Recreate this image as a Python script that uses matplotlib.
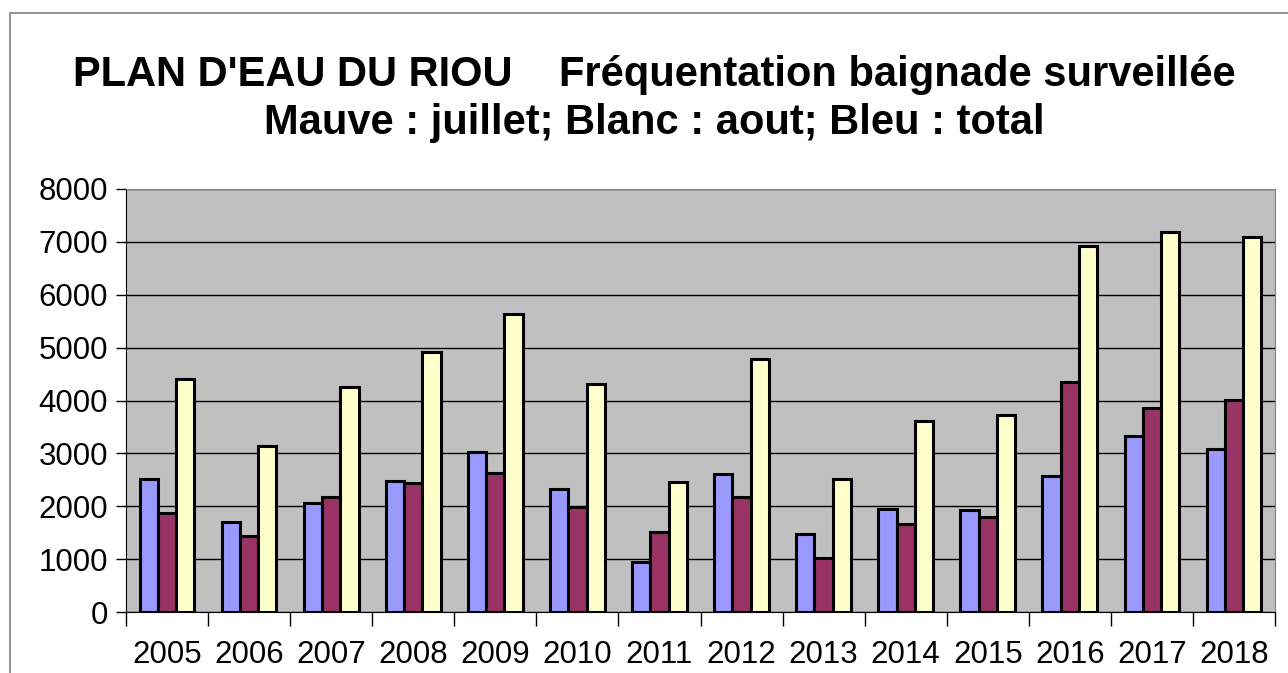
import numpy as np
import matplotlib.pyplot as plt
from matplotlib.patches import Rectangle

years = ["2005", "2006", "2007", "2008", "2009", "2010", "2011",
         "2012", "2013", "2014", "2015", "2016", "2017", "2018"]
juillet = [2510, 1700, 2060, 2470, 3020, 2330, 940,
           2610, 1480, 1940, 1930, 2580, 3330, 3090]
aout = [1880, 1440, 2180, 2440, 2620, 1980, 1510,
        2180, 1030, 1660, 1790, 4350, 3850, 4010]
total = [4400, 3140, 4250, 4910, 5630, 4320, 2450,
         4780, 2510, 3620, 3730, 6920, 7190, 7100]

plt.rcParams['font.family'] = ['Liberation Sans', 'DejaVu Sans']

W, H = 1288, 673
fig = plt.figure(figsize=(W / 100, H / 100), dpi=100)
ax = fig.add_axes([126 / W, 1 - 612 / H, (1275 - 126) / W, (612 - 189) / H])

# cadre du graphique
fig.patches.append(Rectangle((10 / W, -0.1), 1.5, 1 - 13 / H + 0.1,
                             transform=fig.transFigure, fill=False,
                             edgecolor='#808080', linewidth=1.2))

x = np.arange(len(years))
w = 1 / 4.5
kw = dict(width=w, edgecolor='black', linewidth=2.2, zorder=3)
ax.bar(x - w, juillet, color='#9999FF', **kw)
ax.bar(x, aout, color='#993366', **kw)
ax.bar(x + w, total, color='#FFFFCC', **kw)

ax.set_facecolor('#C0C0C0')
ax.set_xlim(-0.5, len(years) - 0.5)
ax.set_ylim(0, 8000)
ax.set_yticks(range(0, 8001, 1000))
ax.yaxis.grid(True, color='black', linewidth=1, zorder=1)
ax.set_axisbelow(True)

ax.set_xticks(x)
ax.set_xticklabels(years)
ax.set_xticks(np.arange(-0.5, len(years), 1), minor=True)
ax.tick_params(axis='x', which='major', length=0, pad=20, labelsize=22.5)
ax.tick_params(axis='x', which='minor', length=10, width=1, color='black')
ax.tick_params(axis='y', length=7, width=1, labelsize=22.5, pad=6)

for s in ['top', 'right']:
    ax.spines[s].set_color('#808080')
ax.spines['left'].set_color('black')
ax.spines['bottom'].set_color('black')

fig.text(0.508, 1 - 75 / H, "PLAN D'EAU DU RIOU    Fréquentation baignade surveillée",
         ha='center', va='center', fontsize=30, fontweight='bold')
fig.text(0.508, 1 - 123 / H, "Mauve : juillet; Blanc : aout; Bleu : total",
         ha='center', va='center', fontsize=30, fontweight='bold')

fig.savefig('out.png', dpi=100)
